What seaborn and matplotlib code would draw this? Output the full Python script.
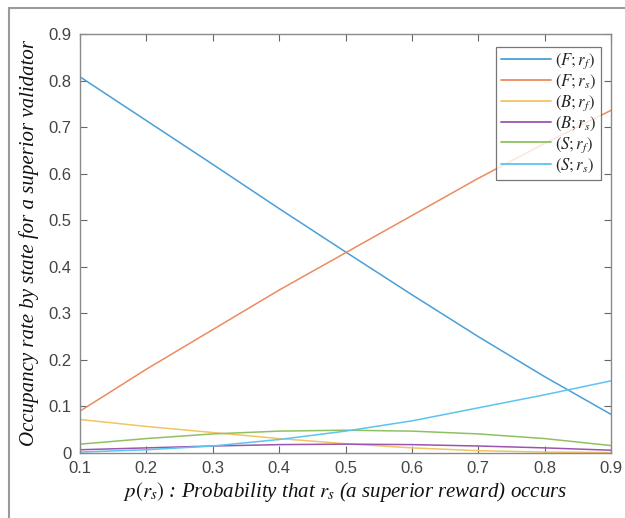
import numpy as np
import pandas as pd
import matplotlib
matplotlib.use("Agg")
import matplotlib.pyplot as plt
import seaborn as sns
from matplotlib.lines import Line2D

# Values
p_rs = [0.1, 0.2, 0.3, 0.4, 0.5, 0.6, 0.7, 0.8, 0.9]
F_rf = [0.808, 0.714, 0.620, 0.525, 0.432, 0.340, 0.250, 0.164, 0.083]
F_rs = [0.090, 0.180, 0.265, 0.350, 0.430, 0.510, 0.590, 0.665, 0.736]
B_rf = [0.072, 0.057, 0.044, 0.031, 0.020, 0.011, 0.005, 0.002, 0.001]
B_rs = [0.007, 0.011, 0.015, 0.018, 0.019, 0.018, 0.015, 0.011, 0.006]
S_rf = [0.019, 0.031, 0.041, 0.047, 0.049, 0.047, 0.041, 0.031, 0.016]
S_rs = [0.002, 0.007, 0.015, 0.029, 0.047, 0.069, 0.097, 0.125, 0.155]

labels = ["$(F;r_f)$", "$(F;r_s)$", "$(B;r_f)$", "$(B;r_s)$", "$(S;r_f)$", "$(S;r_s)$"]
colors = ["#4a9fd8", "#ec8a62", "#f2c463", "#9a55b0", "#8fc162", "#5cc4ee"]
series = [F_rf, F_rs, B_rf, B_rs, S_rf, S_rs]

df = pd.concat(
    [pd.DataFrame({"p": p_rs, "rate": s, "state": lab}) for s, lab in zip(series, labels)],
    ignore_index=True,
)

sns.set_theme(style="white")
plt.rcParams["mathtext.fontset"] = "stix"
plt.rcParams["font.family"] = ["Liberation Sans", "DejaVu Sans"]

fig = plt.figure(figsize=(6.25, 5.18), dpi=100)
ax = fig.add_axes([80 / 625, 1 - 453 / 518, (611 - 80) / 625, (453 - 34) / 518])

sns.lineplot(data=df, x="p", y="rate", hue="state", palette=colors,
             linewidth=1.1, ax=ax, legend=False)

ax.set_xlim(0.1, 0.9)
ax.set_ylim(0, 0.9)
ax.set_xticks(np.arange(0.1, 0.91, 0.1))
ax.set_yticks(np.arange(0, 0.91, 0.1))
ax.set_xticklabels(["0.1", "0.2", "0.3", "0.4", "0.5", "0.6", "0.7", "0.8", "0.9"])
ax.set_yticklabels(["0", "0.1", "0.2", "0.3", "0.4", "0.5", "0.6", "0.7", "0.8", "0.9"])
ax.tick_params(direction="in", length=5, width=0.8, color="#666666",
               labelsize=12, labelcolor="#444444", top=True, right=True,
               bottom=True, left=True, pad=6)
for sp in ax.spines.values():
    sp.set_color("#8a8a8a")
    sp.set_linewidth(1.0)

serif = dict(family="Liberation Serif", style="italic", size=15, color="#111111")
ax.set_xlabel("$p(r_s)$ : Probability that $r_s$ (a superior reward) occurs", **serif, labelpad=3)
ax.set_ylabel("Occupancy rate by state for a superior validator", **serif, labelpad=7)

handles = [Line2D([0], [0], color=c, lw=1.3) for c in colors]
leg = ax.legend(handles, labels, loc="upper right", bbox_to_anchor=(0.982, 0.97),
                fontsize=12, frameon=True, fancybox=False, handlelength=3.0,
                labelspacing=0.12, borderpad=0.3, handletextpad=0.25,
                borderaxespad=0)
leg.get_frame().set_edgecolor("#555555")
leg.get_frame().set_linewidth(0.9)

# screenshot frame on the left and top
fig.add_artist(Line2D([9 / 625, 9 / 625], [0, 1 - 8 / 518], color="#9a9a9a", lw=1.5))
fig.add_artist(Line2D([9 / 625, 1], [1 - 8 / 518, 1 - 8 / 518], color="#9a9a9a", lw=1.5))

fig.savefig("out.png", dpi=100)
